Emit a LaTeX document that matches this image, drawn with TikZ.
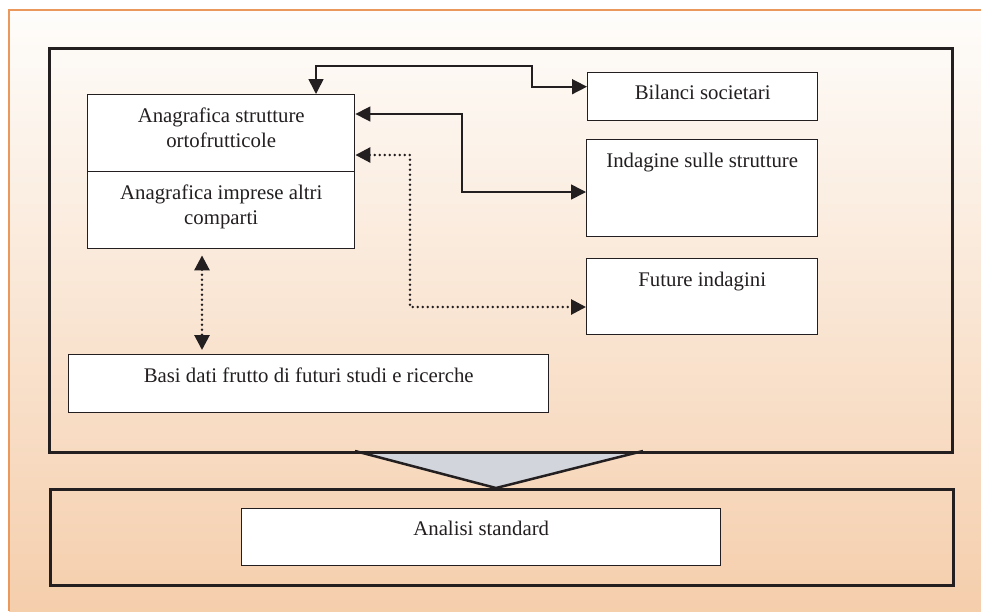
\documentclass[tikz,border=0pt]{standalone}
\usepackage{fontspec}
\setmainfont{Liberation Serif}
\usetikzlibrary{arrows.meta,calc}
\definecolor{bgtop}{RGB}{254,253,251}
\definecolor{bgbot}{RGB}{245,206,172}
\definecolor{frameor}{RGB}{234,152,92}
\definecolor{ink}{RGB}{35,31,32}
\definecolor{funnel}{RGB}{210,213,220}
\begin{document}
\begin{tikzpicture}[x=1pt,y=-1pt,
  bigbox/.style={draw=ink,line width=3pt,inner sep=0pt,anchor=north west},
  card/.style={draw=ink,line width=1.4pt,fill=white,inner sep=0pt,anchor=north west},
  lbl/.style={inner sep=0pt,anchor=north,align=center,font=\fontsize{20.8}{25}\selectfont,text=ink},
  conn/.style={draw=ink,line width=1.6pt,{Triangle[length=15pt,width=15pt]}-{Triangle[length=15pt,width=15pt]}},
  dotconn/.style={conn,line width=2.8pt,line cap=round,dash pattern=on 0pt off 5pt,{Triangle[length=15pt,width=15pt]}-{Triangle[length=15pt,width=15pt]}}]
\useasboundingbox (0,0) rectangle (981,611);
% background
\shade[top color=bgtop,bottom color=bgbot] (9,10) rectangle (981,611);
\draw[frameor,line width=1.5pt] (981,10) -- (9,10) -- (9,611);
% funnel fill
\coordinate (f1) at (355,451);
\coordinate (f2) at (643,451);
\coordinate (f3) at (496,488);
\fill[funnel] (f1) -- (f2) -- (f3) -- cycle;
% containers
\node[bigbox,minimum width=903pt,minimum height=404pt] (big) at (48,47) {};
\node[bigbox,minimum width=903pt,minimum height=96pt] (low) at (49,488) {};
\draw[ink,line width=2.5pt,line join=round] (f1) -- (f3) -- (f2);
% cards
\node[card,minimum width=267pt,minimum height=77pt] (anagA) at (87,94) {};
\node[card,minimum width=267pt,minimum height=77pt] (anagB) at (87,171) {};
\node[card,minimum width=230pt,minimum height=48pt] (bil) at (587,72) {};
\node[card,minimum width=231pt,minimum height=97pt] (ind) at (586,139) {};
\node[card,minimum width=231pt,minimum height=76pt] (fut) at (586,258) {};
\node[card,minimum width=480pt,minimum height=58pt] (basi) at (68,354) {};
\node[card,minimum width=479pt,minimum height=57pt] (ana) at (241,508) {};
% labels
\node[lbl] (tA) at ($(anagA.north)+(0,14)$) {Anagrafica strutture\\ortofrutticole};
\node[lbl] (tB) at ($(anagB.north)+(0,14)$) {Anagrafica imprese altri\\comparti};
\node[lbl] (tbil) at ($(bil.north)+(0,13)$) {Bilanci societari};
\node[lbl] (tind) at ($(ind.north)+(0,14)$) {Indagine sulle strutture};
\node[lbl] (tfut) at ($(fut.north)+(0,14)$) {Future indagini};
\node[lbl] (tbasi) at ($(basi.north)+(0,14)$) {Basi dati frutto di futuri studi e ricerche};
\node[lbl] (tana) at ($(ana.north)+(0,13)$) {Analisi standard};
% connectors
\coordinate (c1) at (532,66);
\coordinate (c2) at (316,66);
\draw[conn] ([yshift=10pt]bil.west) -| (c1) -- (c2) -- (c2 |- anagA.north);
\coordinate (c3) at (462,114);
\coordinate (c4) at (462,192);
\draw[conn] (anagA.east |- c3) -- (c3) -- (c4) -- (c4 -| ind.west);
\coordinate (c5) at (410,155);
\coordinate (c6) at (410,307);
\draw[dotconn] (anagA.east |- c5) -- (c5) -- (c6) -- (c6 -| fut.west);
\coordinate (c7) at (202,0);
\draw[dotconn,shorten <=6pt,shorten >=4pt] (c7 |- anagB.south) -- (c7 |- basi.north);
\end{tikzpicture}
\end{document}
